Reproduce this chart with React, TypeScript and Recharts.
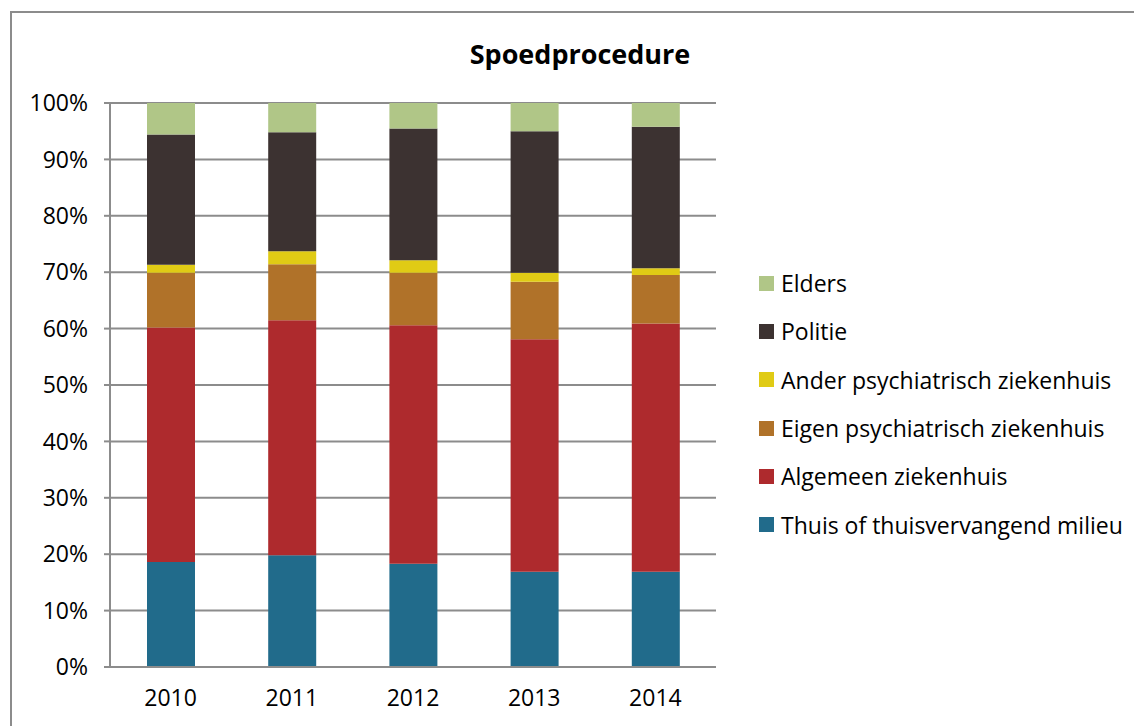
import { BarChart, Bar, XAxis, YAxis, CartesianGrid, Legend } from 'recharts';

const years = ['2010', '2011', '2012', '2013', '2014'];

const thuis = [18.6, 19.8, 18.3, 16.9, 16.9];
const algemeen = [41.6, 41.7, 42.3, 41.2, 44.0];
const eigen = [9.7, 9.9, 9.3, 10.2, 8.6];
const ander = [1.4, 2.3, 2.2, 1.6, 1.2];
const politie = [23.1, 21.1, 23.4, 25.1, 25.1];
const elders = [5.6, 5.2, 4.5, 5.0, 4.2];

const yTicks = [0, 10, 20, 30, 40, 50, 60, 70, 80, 90, 100];

const series = [
  { key: 'thuis', name: 'Thuis of thuisvervangend milieu', color: '#216B8B', values: thuis },
  { key: 'algemeen', name: 'Algemeen ziekenhuis', color: '#AE2A2D', values: algemeen },
  { key: 'eigen', name: 'Eigen psychiatrisch ziekenhuis', color: '#B07229', values: eigen },
  { key: 'ander', name: 'Ander psychiatrisch ziekenhuis', color: '#E0CB15', values: ander },
  { key: 'politie', name: 'Politie', color: '#3C3231', values: politie },
  { key: 'elders', name: 'Elders', color: '#B0C687', values: elders },
];

const data = years.map((year, i) => {
  const row: Record<string, string | number> = { year };
  series.forEach((s) => {
    row[s.key] = s.values[i];
  });
  return row;
});

const FONT = '"Open Sans", Lato, sans-serif';
const GRID = '#8c8c8c';

function LegendBox() {
  return (
    <div style={{ fontFamily: FONT, fontSize: 23, color: '#000' }}>
      {[...series].reverse().map((s) => (
        <div key={s.key} style={{ display: 'flex', alignItems: 'center', height: 48.3 }}>
          <span style={{ width: 15, height: 15, background: s.color, marginRight: 7, display: 'inline-block' }} />
          <span>{s.name}</span>
        </div>
      ))}
    </div>
  );
}

export default function App() {
  return (
    <div style={{ position: 'absolute', left: 0, top: 0, width: 1134, height: 726, overflow: 'hidden', background: '#fff' }}>
      <div
        style={{
          position: 'absolute',
          left: 10,
          top: 11,
          width: 1200,
          height: 800,
          border: `2px solid ${GRID}`,
          boxSizing: 'border-box',
        }}
      />
      <div
        style={{
          position: 'absolute',
          left: 380,
          width: 400,
          top: 35,
          textAlign: 'center',
          fontFamily: FONT,
          fontWeight: 'bold',
          fontSize: 27,
          color: '#000',
        }}
      >
        Spoedprocedure
      </div>
      <div style={{ position: 'absolute', left: 0, top: 0 }}>
        <BarChart
          width={1134}
          height={726}
          data={data}
          margin={{ top: 103, right: 418, bottom: 0, left: 0 }}
          barSize={48}
          style={{ fontFamily: FONT }}
        >
          <CartesianGrid vertical={false} stroke={GRID} strokeWidth={2} />
          <XAxis
            dataKey="year"
            height={59}
            tickLine={false}
            tickSize={0}
            tickMargin={23}
            axisLine={{ stroke: GRID, strokeWidth: 2 }}
            tick={{ fontSize: 23, fill: '#000' }}
          />
          <YAxis
            width={110}
            domain={[0, 100]}
            ticks={yTicks}
            allowDataOverflow
            tickFormatter={(v) => `${v}%`}
            tickSize={6}
            tickMargin={16}
            tickLine={{ stroke: GRID, strokeWidth: 2 }}
            axisLine={{ stroke: GRID, strokeWidth: 2 }}
            tick={{ fontSize: 23, fill: '#000' }}
          />
          <Legend
            layout="vertical"
            align="center"
            verticalAlign="middle"
            wrapperStyle={{ left: 759, top: 259, width: 375 }}
            content={() => <LegendBox />}
          />
          {series.map((s) => (
            <Bar key={s.key} dataKey={s.key} name={s.name} stackId="a" fill={s.color} isAnimationActive={false} />
          ))}
        </BarChart>
      </div>
    </div>
  );
}
